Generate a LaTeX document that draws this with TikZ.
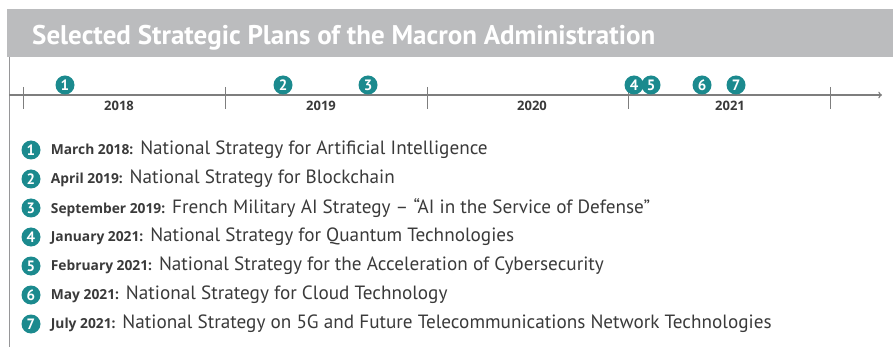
\documentclass[tikz,border=0pt]{standalone}
\usepackage{fontspec}
\setmainfont{PT Sans}
\newfontfamily\datefam{Open Sans}
\usetikzlibrary{positioning}

\definecolor{teal}{HTML}{1B8A8E}
\definecolor{bandgray}{HTML}{BBBCBE}
\definecolor{axisgray}{HTML}{7E7E7E}
\definecolor{textgray}{HTML}{3A3A3A}

\begin{document}
\begin{tikzpicture}[%
            x=1pt,
            y=-1pt,
            ]
    \tikzset{badge/.style = {circle, fill=teal, text=white, inner sep=0pt, minimum size=19pt, font=\bfseries\fontsize{15}{15}\selectfont}}
    \tikzset{year/.style = {text=textgray, font=\datefam\bfseries\fontsize{13}{14}\selectfont}}
    \tikzset{entry/.style = {right=10pt of #1, inner sep=0pt, text=textgray, font=\fontsize{19.2}{20}\selectfont}}
    \tikzset{tick/.style = {axisgray, line width=0.6pt}}
    \newcommand{\datefont}{\datefam\bfseries\fontsize{13.8}{13}\selectfont}

    \useasboundingbox (0,0) rectangle (893,347);

    % Title band
    \fill[bandgray] (7,9) rectangle (893,57);
    \node (title) [anchor=base west, inner sep=0pt, text=white, font=\bfseries\fontsize{27}{30}\selectfont] at (32,45) {Selected Strategic Plans of the Macron Administration};
    \draw[bandgray!80!black, line width=0.5pt] (9,57) -- (9,347);

    % Axis
    \coordinate (start) at (9,95);
    \coordinate (end) at (882,95);
    \draw[->, axisgray, line width=1.4pt] (start) -- (end);
    \draw[tick] (23,87) -- (23,109);
    \draw[tick] (225,87) -- (225,109);
    \draw[tick] (427,87) -- (427,109);
    \draw[tick] (628,87) -- (628,109);
    \draw[tick] (830,87) -- (830,109);
    \node (y2018) [year] at (119,106) {2018};
    \node (y2019) [year] at (321,106) {2019};
    \node (y2020) [year] at (532,106) {2020};
    \node (y2021) [year] at (730,106) {2021};

    % Markers on the axis
    \node (t1) [badge] at (65,85) {1};
    \node (t2) [badge] at (283,85) {2};
    \node (t3) [badge] at (368,85) {3};
    \node (t4) [badge] at (634,85) {4};
    \node (t5) [badge] at (651,85) {5};
    \node (t6) [badge] at (702,85) {6};
    \node (t7) [badge] at (736,85) {7};

    % List
    \node (l1) [badge] at (31,150) {1};
    \node (l2) [badge] at (31,179) {2};
    \node (l3) [badge] at (31,208) {3};
    \node (l4) [badge] at (31,237) {4};
    \node (l5) [badge] at (31,266) {5};
    \node (l6) [badge] at (31,295) {6};
    \node (l7) [badge] at (31,324) {7};
    \node (e1) [entry=l1] {{\datefont March 2018:} National Strategy for Artificial Intelligence};
    \node (e2) [entry=l2] {{\datefont April 2019:} National Strategy for Blockchain};
    \node (e3) [entry=l3] {{\datefont September 2019:} French Military AI Strategy -- “AI in the Service of Defense”};
    \node (e4) [entry=l4] {{\datefont January 2021:} National Strategy for Quantum Technologies};
    \node (e5) [entry=l5] {{\datefont February 2021:} National Strategy for the Acceleration of Cybersecurity};
    \node (e6) [entry=l6] {{\datefont May 2021:} National Strategy for Cloud Technology};
    \node (e7) [entry=l7] {{\datefont July 2021:} National Strategy on 5G and Future Telecommunications Network Technologies};

\end{tikzpicture}
\end{document}
